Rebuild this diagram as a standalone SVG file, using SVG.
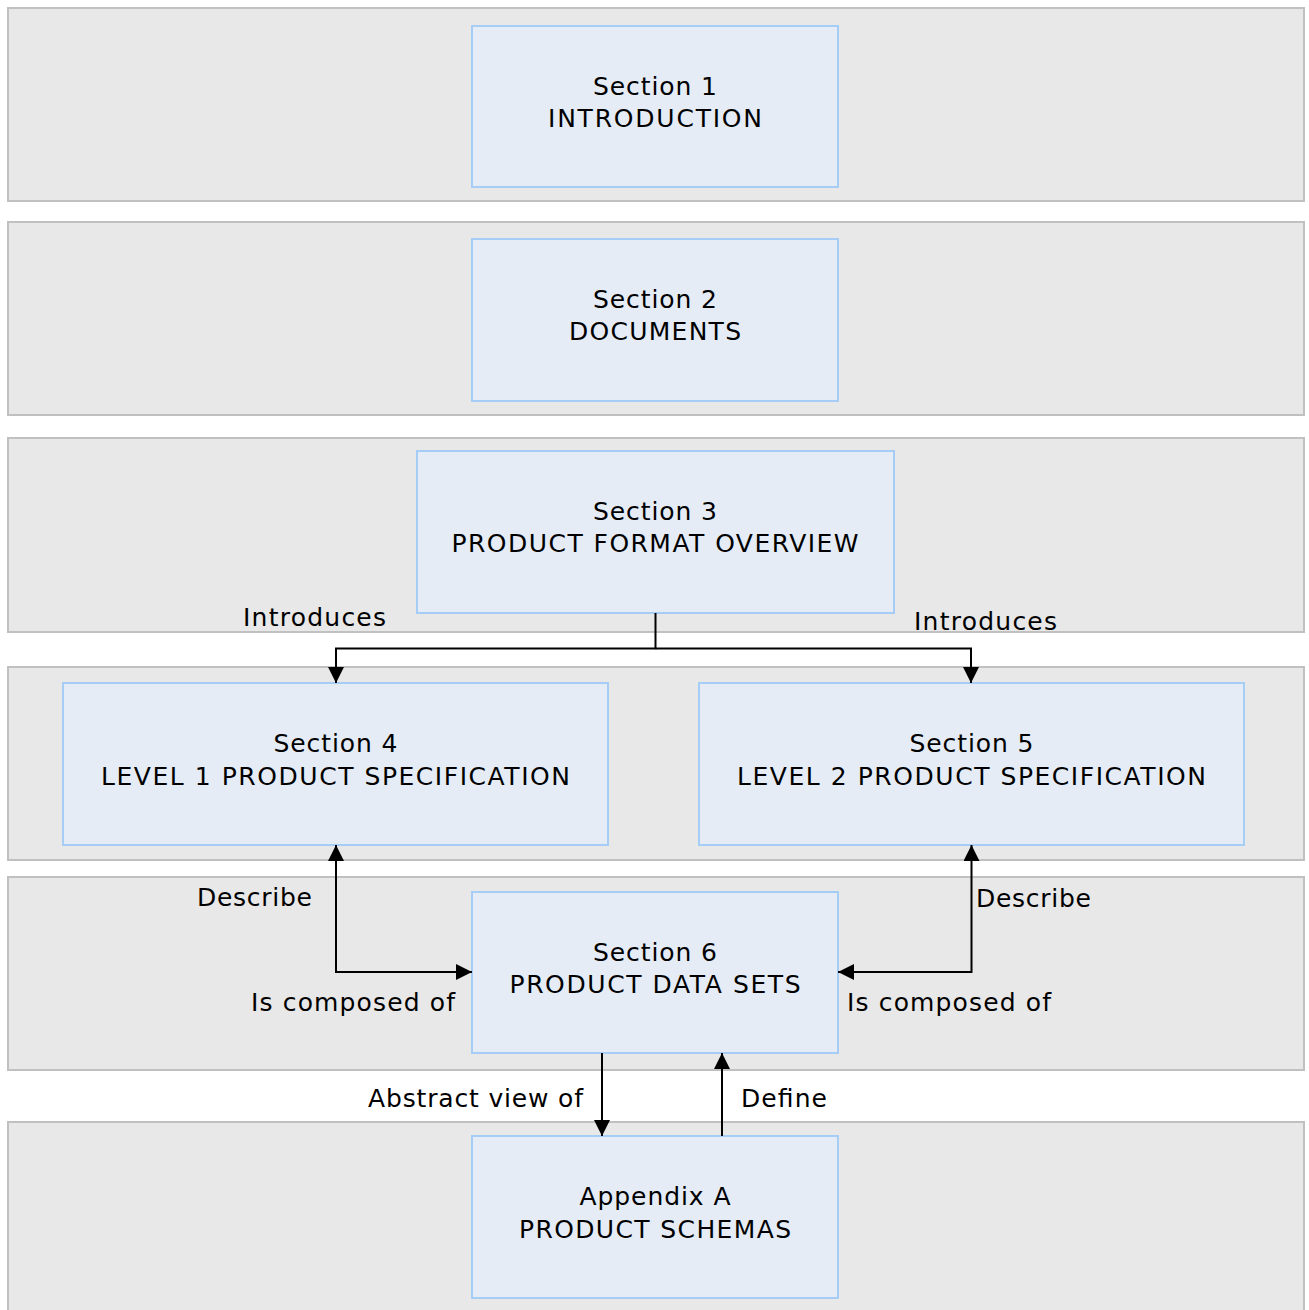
<svg xmlns="http://www.w3.org/2000/svg" width="1309" height="1310" viewBox="0 0 1309 1310">
<style>
.band{fill:#e8e8e8;stroke:#c0c0c0;stroke-width:2}
.box{fill:#e5ecf6;stroke:#a6cdf5;stroke-width:2}
text{font-family:"DejaVu Sans",Verdana,sans-serif;font-size:25px;fill:#000}
.c{text-anchor:middle}
.ln{fill:none;stroke:#000;stroke-width:2}
</style>
<defs>
<marker id="ah" viewBox="0 0 10 10" refX="10" refY="5" markerWidth="16" markerHeight="16" markerUnits="userSpaceOnUse" orient="auto-start-reverse">
<path d="M0,0 L10,5 L0,10 z" fill="#000"/>
</marker>
</defs>
<rect width="1309" height="1310" fill="#fff"/>
<g id="bands">
<rect class="band" x="8" y="8" width="1296" height="193"/>
<rect class="band" x="8" y="222" width="1296" height="193"/>
<rect class="band" x="8" y="438" width="1296" height="194"/>
<rect class="band" x="8" y="667" width="1296" height="193"/>
<rect class="band" x="8" y="877" width="1296" height="193"/>
<rect class="band" x="8" y="1122" width="1296" height="200"/>
</g>
<g id="s1"><rect class="box" x="472" y="26" width="366" height="161"/><text class="c" x="655" y="95" textLength="124" lengthAdjust="spacing">Section 1</text><text class="c" x="655" y="127" textLength="214" lengthAdjust="spacing">INTRODUCTION</text></g>
<g id="s2"><rect class="box" x="472" y="239" width="366" height="162"/><text class="c" x="655" y="308" textLength="124" lengthAdjust="spacing">Section 2</text><text class="c" x="655" y="340" textLength="172" lengthAdjust="spacing">DOCUMENTS</text></g>
<g id="s3"><rect class="box" x="417" y="451" width="477" height="162"/><text class="c" x="655" y="520" textLength="124" lengthAdjust="spacing">Section 3</text><text class="c" x="655" y="552" textLength="407" lengthAdjust="spacing">PRODUCT FORMAT OVERVIEW</text></g>
<g id="s4"><rect class="box" x="63" y="683" width="545" height="162"/><text class="c" x="335.5" y="752" textLength="124" lengthAdjust="spacing">Section 4</text><text class="c" x="335.5" y="785" textLength="469" lengthAdjust="spacing">LEVEL 1 PRODUCT SPECIFICATION</text></g>
<g id="s5"><rect class="box" x="699" y="683" width="545" height="162"/><text class="c" x="971.5" y="752" textLength="124" lengthAdjust="spacing">Section 5</text><text class="c" x="971.5" y="785" textLength="469" lengthAdjust="spacing">LEVEL 2 PRODUCT SPECIFICATION</text></g>
<g id="s6"><rect class="box" x="472" y="892" width="366" height="161"/><text class="c" x="655" y="961" textLength="124" lengthAdjust="spacing">Section 6</text><text class="c" x="655" y="993" textLength="291" lengthAdjust="spacing">PRODUCT DATA SETS</text></g>
<g id="appA"><rect class="box" x="472" y="1136" width="366" height="162"/><text class="c" x="655" y="1205" textLength="151" lengthAdjust="spacing">Appendix A</text><text class="c" x="655" y="1238" textLength="272" lengthAdjust="spacing">PRODUCT SCHEMAS</text></g>
<g id="connectors">
<path class="ln" d="M655.5,613 V648.5 H336 V683" marker-end="url(#ah)"/>
<path class="ln" d="M655.5,648.5 H971 V683" marker-end="url(#ah)"/>
<path class="ln" d="M336,845 V972 H472" marker-start="url(#ah)" marker-end="url(#ah)"/>
<path class="ln" d="M971.5,845 V972 H838" marker-start="url(#ah)" marker-end="url(#ah)"/>
<path class="ln" d="M602,1053 V1136" marker-end="url(#ah)"/>
<path class="ln" d="M722,1136 V1053" marker-end="url(#ah)"/>
</g>
<g id="labels">
<text x="243" y="626" textLength="143" lengthAdjust="spacing">Introduces</text>
<text x="914" y="630" textLength="143" lengthAdjust="spacing">Introduces</text>
<text x="197" y="906" textLength="115" lengthAdjust="spacing">Describe</text>
<text x="976" y="907" textLength="115" lengthAdjust="spacing">Describe</text>
<text x="251" y="1011" textLength="204" lengthAdjust="spacing">Is composed of</text>
<text x="847" y="1011" textLength="204" lengthAdjust="spacing">Is composed of</text>
<text x="368" y="1107" textLength="215" lengthAdjust="spacing">Abstract view of</text>
<text x="741" y="1107" textLength="86" lengthAdjust="spacing">Define</text>
</g>
</svg>
